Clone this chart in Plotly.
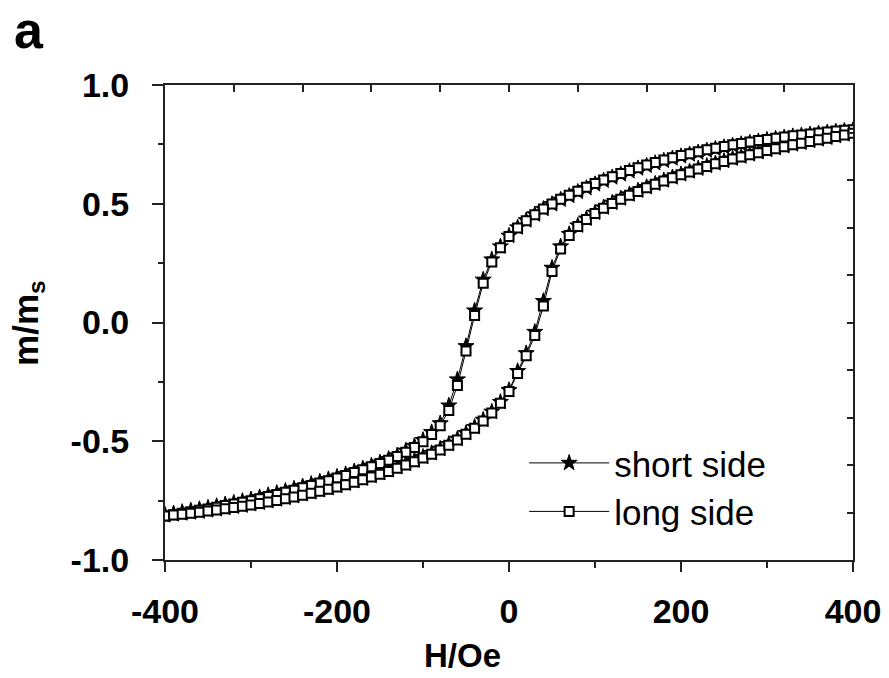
import plotly.graph_objects as go

# Field values (Oe), ascending
H = [-400, -390, -380, -370, -360, -350, -340, -330, -320, -310,
     -300, -290, -280, -270, -260, -250, -240, -230, -220, -210,
     -200, -190, -180, -170, -160, -150, -140, -130, -120, -110,
     -100, -90, -80, -70, -60, -50, -40, -30, -20, -10,
     0, 10, 20, 30, 40, 50, 60, 70, 80, 90,
     100, 110, 120, 130, 140, 150, 160, 170, 180, 190,
     200, 210, 220, 230, 240, 250, 260, 270, 280, 290,
     300, 310, 320, 330, 340, 350, 360, 370, 380, 390, 400]

# short side: descending-field branch (listed at ascending H)
short_down = [-0.810, -0.804, -0.798, -0.792, -0.786, -0.780, -0.773, -0.766, -0.759, -0.752,
              -0.745, -0.736, -0.727, -0.718, -0.709, -0.700, -0.690, -0.680, -0.670, -0.660,
              -0.650, -0.639, -0.627, -0.615, -0.603, -0.590, -0.575, -0.560, -0.540, -0.520,
              -0.495, -0.462, -0.425, -0.350, -0.240, -0.100, 0.050, 0.180, 0.265, 0.320,
              0.365, 0.400, 0.430, 0.455, 0.478, 0.498, 0.517, 0.533, 0.550, 0.566,
              0.582, 0.597, 0.611, 0.624, 0.637, 0.649, 0.660, 0.671, 0.681, 0.691,
              0.700, 0.708, 0.716, 0.724, 0.731, 0.738, 0.745, 0.751, 0.757, 0.763,
              0.769, 0.774, 0.779, 0.784, 0.788, 0.792, 0.796, 0.800, 0.804, 0.807, 0.810]
# short side: ascending-field branch
short_up = [-0.812, -0.808, -0.804, -0.800, -0.796, -0.791, -0.786, -0.781, -0.776, -0.771,
            -0.765, -0.759, -0.752, -0.745, -0.738, -0.731, -0.723, -0.715, -0.706, -0.697,
            -0.688, -0.678, -0.668, -0.657, -0.646, -0.634, -0.622, -0.609, -0.595, -0.581,
            -0.566, -0.550, -0.532, -0.512, -0.490, -0.466, -0.440, -0.410, -0.376, -0.335,
            -0.285, -0.205, -0.130, -0.040, 0.090, 0.230, 0.320, 0.372, 0.408, 0.437,
            0.462, 0.484, 0.504, 0.522, 0.539, 0.555, 0.570, 0.584, 0.598, 0.611,
            0.624, 0.636, 0.648, 0.659, 0.670, 0.680, 0.690, 0.699, 0.708, 0.717,
            0.726, 0.734, 0.742, 0.750, 0.757, 0.764, 0.771, 0.778, 0.785, 0.792, 0.800]
# long side: descending-field branch
long_down = [-0.815, -0.809, -0.803, -0.797, -0.791, -0.785, -0.778, -0.771, -0.764, -0.757,
             -0.750, -0.742, -0.733, -0.724, -0.715, -0.706, -0.696, -0.686, -0.676, -0.666,
             -0.655, -0.644, -0.632, -0.620, -0.607, -0.594, -0.580, -0.564, -0.546, -0.526,
             -0.502, -0.472, -0.435, -0.370, -0.265, -0.120, 0.030, 0.165, 0.255, 0.315,
             0.362, 0.398, 0.428, 0.454, 0.478, 0.499, 0.519, 0.536, 0.553, 0.569,
             0.585, 0.600, 0.614, 0.627, 0.640, 0.652, 0.663, 0.674, 0.684, 0.694,
             0.703, 0.711, 0.719, 0.727, 0.734, 0.741, 0.748, 0.754, 0.760, 0.766,
             0.771, 0.776, 0.781, 0.786, 0.790, 0.794, 0.798, 0.802, 0.806, 0.809, 0.812]
# long side: ascending-field branch
long_up = [-0.815, -0.811, -0.807, -0.803, -0.799, -0.794, -0.789, -0.784, -0.779, -0.774,
           -0.768, -0.762, -0.756, -0.749, -0.742, -0.735, -0.727, -0.719, -0.711, -0.702,
           -0.693, -0.683, -0.673, -0.662, -0.651, -0.639, -0.627, -0.614, -0.600, -0.586,
           -0.571, -0.555, -0.537, -0.517, -0.495, -0.471, -0.445, -0.415, -0.381, -0.340,
           -0.290, -0.215, -0.140, -0.055, 0.070, 0.215, 0.310, 0.366, 0.404, 0.434,
           0.459, 0.481, 0.501, 0.519, 0.536, 0.552, 0.567, 0.582, 0.596, 0.609,
           0.622, 0.634, 0.646, 0.657, 0.668, 0.678, 0.688, 0.697, 0.706, 0.715,
           0.724, 0.732, 0.740, 0.748, 0.755, 0.762, 0.769, 0.776, 0.783, 0.790, 0.797]

x_ticks = [-400, -200, 0, 200, 400]
x_labels = ["-400", "-200", "0", "200", "400"]
y_ticks = [-1.0, -0.5, 0.0, 0.5, 1.0]
y_labels = ["-1.0", "-0.5", "0.0", "0.5", "1.0"]

FONT = "Liberation Sans, Arial, sans-serif"

fig = go.Figure()

loop_x = H[::-1] + H
fig.add_trace(go.Scatter(
    x=loop_x, y=short_down[::-1] + short_up, mode="lines+markers", name="short side",
    line=dict(color="black", width=1),
    marker=dict(symbol="star", size=12, color="black", line=dict(color="black", width=1)),
))
fig.add_trace(go.Scatter(
    x=loop_x, y=long_down[::-1] + long_up, mode="lines+markers", name="long side",
    line=dict(color="black", width=1),
    marker=dict(symbol="square", size=9, color="white", line=dict(color="black", width=2)),
))
# empty trace to activate mirrored top/right axes
fig.add_trace(go.Scatter(x=[], y=[], xaxis="x2", yaxis="y2", showlegend=False, hoverinfo="skip"))

axis_common = dict(showgrid=False, zeroline=False, showline=True, linecolor="#222",
                   linewidth=2, tickcolor="#222", tickwidth=2, automargin=False)

fig.update_layout(
    width=889, height=678,
    margin=dict(l=165, r=36, t=85, b=118, autoexpand=False),
    paper_bgcolor="white", plot_bgcolor="white",
    font=dict(family=FONT, color="black"),
    showlegend=True,
    legend=dict(x=0.522, y=0.266, xanchor="left", yanchor="top",
                font=dict(family=FONT, size=35, color="black"),
                bgcolor="rgba(0,0,0,0)", itemwidth=80, tracegroupgap=0),
    xaxis=dict(range=[-400, 400], tickmode="array", tickvals=x_ticks, ticktext=x_labels,
               ticks="outside", ticklen=10, ticklabelstandoff=10,
               minor=dict(dtick=100, tick0=0, ticks="outside", ticklen=6, tickwidth=2, tickcolor="#222"),
               tickfont=dict(family=FONT, size=34, weight="bold", color="black"),
               **axis_common),
    yaxis=dict(range=[-1, 1], tickmode="array", tickvals=y_ticks, ticktext=y_labels,
               ticks="outside", ticklen=11, ticklabelstandoff=16,
               minor=dict(dtick=0.25, tick0=0, ticks="outside", ticklen=5, tickwidth=2, tickcolor="#222"),
               tickfont=dict(family=FONT, size=34, weight="bold", color="black"),
               **axis_common),
    xaxis2=dict(range=[-400, 400], overlaying="x", side="top", anchor="y",
                tickmode="linear", tick0=0, dtick=80, ticks="inside", ticklen=7,
                showticklabels=False, **axis_common),
    yaxis2=dict(range=[-1, 1], overlaying="y", side="right", anchor="x",
                tickmode="linear", tick0=0, dtick=0.2, ticks="inside", ticklen=6,
                showticklabels=False, **axis_common),
    annotations=[
        dict(text="H/Oe", xref="paper", yref="paper", x=0.432, y=-0.2,
             xanchor="center", yanchor="middle", showarrow=False, borderpad=0,
             font=dict(family=FONT, size=33, weight="bold", color="black")),
        dict(text="m/m<sub>s</sub>", xref="paper", yref="paper", x=-0.2, y=0.5,
             xanchor="center", yanchor="middle", showarrow=False, textangle=-90, borderpad=0,
             font=dict(family=FONT, size=35, weight="bold", color="black")),
        dict(text="a", xref="paper", yref="paper", x=-0.198, y=1.178,
             xanchor="center", yanchor="top", showarrow=False, borderpad=0,
             font=dict(family=FONT, size=52, weight="bold", color="black")),
    ],
)

fig.write_html("out.html", config={"displayModeBar": False},
               post_script="document.body.style.margin='0';")
